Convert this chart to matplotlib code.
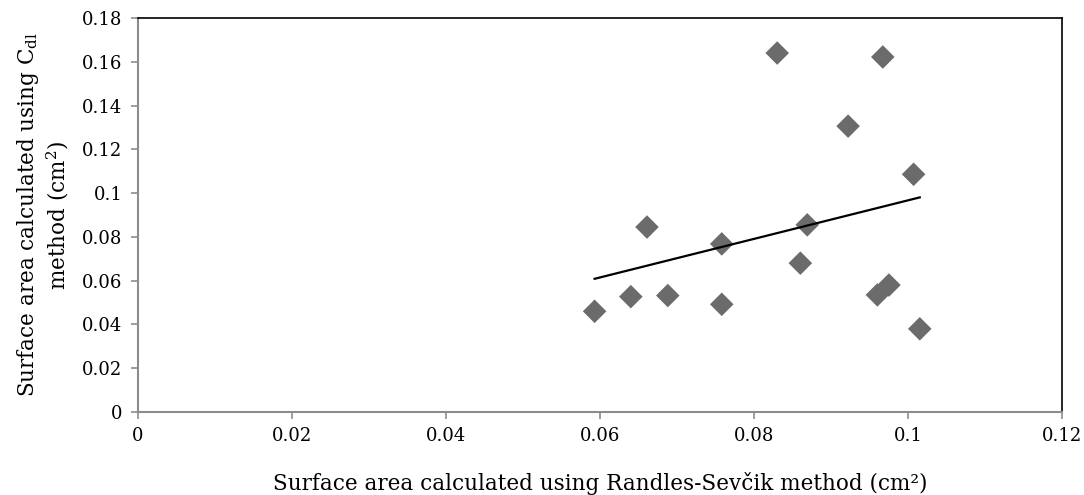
import numpy as np
import matplotlib
matplotlib.use("Agg")
import matplotlib.pyplot as plt

# data
randles_sevcik = [0.0593, 0.0640, 0.0688, 0.0661, 0.0758, 0.0758, 0.0830, 0.0967,
                  0.0922, 0.1007, 0.0869, 0.0860, 0.0960, 0.0975, 0.1015]
cdl_method = [0.0460, 0.0527, 0.0532, 0.0845, 0.0768, 0.0492, 0.1640, 0.1622,
              0.1306, 0.1086, 0.0855, 0.0680, 0.0535, 0.0580, 0.0380]
x_ticks = [0, 0.02, 0.04, 0.06, 0.08, 0.1, 0.12]
y_ticks = [0, 0.02, 0.04, 0.06, 0.08, 0.1, 0.12, 0.14, 0.16, 0.18]

plt.rcParams['font.family'] = ['DejaVu Serif']
plt.rcParams['mathtext.default'] = 'regular'

fig = plt.figure(figsize=(10.84, 4.95), dpi=100)
ax = fig.add_axes([0.127, 0.1677, 0.853, 0.7959])

ax.scatter(randles_sevcik, cdl_method, marker='D', s=12 ** 2, color='#6b6b6b',
           edgecolors='none', zorder=3)

# linear trendline
xs = np.array(randles_sevcik)
k, b = np.polyfit(xs, cdl_method, 1)
x_line = np.array([xs.min(), xs.max()])
ax.plot(x_line, k * x_line + b, color='black', lw=1.6, zorder=4)

ax.set_xlim(0, 0.12)
ax.set_ylim(0, 0.18)
ax.set_xticks(x_ticks)
ax.set_yticks(y_ticks)
ax.set_xticklabels([f'{t:g}' for t in x_ticks])
ax.set_yticklabels([f'{t:g}' for t in y_ticks])
ax.tick_params(labelsize=13, color='#8c8c8c', length=5, width=1.2, pad=6)

for side in ['left', 'bottom']:
    ax.spines[side].set_color('#8c8c8c')
    ax.spines[side].set_linewidth(1.5)
for side in ['top', 'right']:
    ax.spines[side].set_color('black')
    ax.spines[side].set_linewidth(1.2)

ax.set_xlabel('Surface area calculated using Randles-Sevčik method (cm²)',
              fontsize=15.5, labelpad=19)
ax.set_ylabel('Surface area calculated using C$_{dl}$\nmethod (cm$^{2}$)',
              fontsize=15.5, labelpad=8, linespacing=1.15)

fig.savefig('out.png', dpi=100)
